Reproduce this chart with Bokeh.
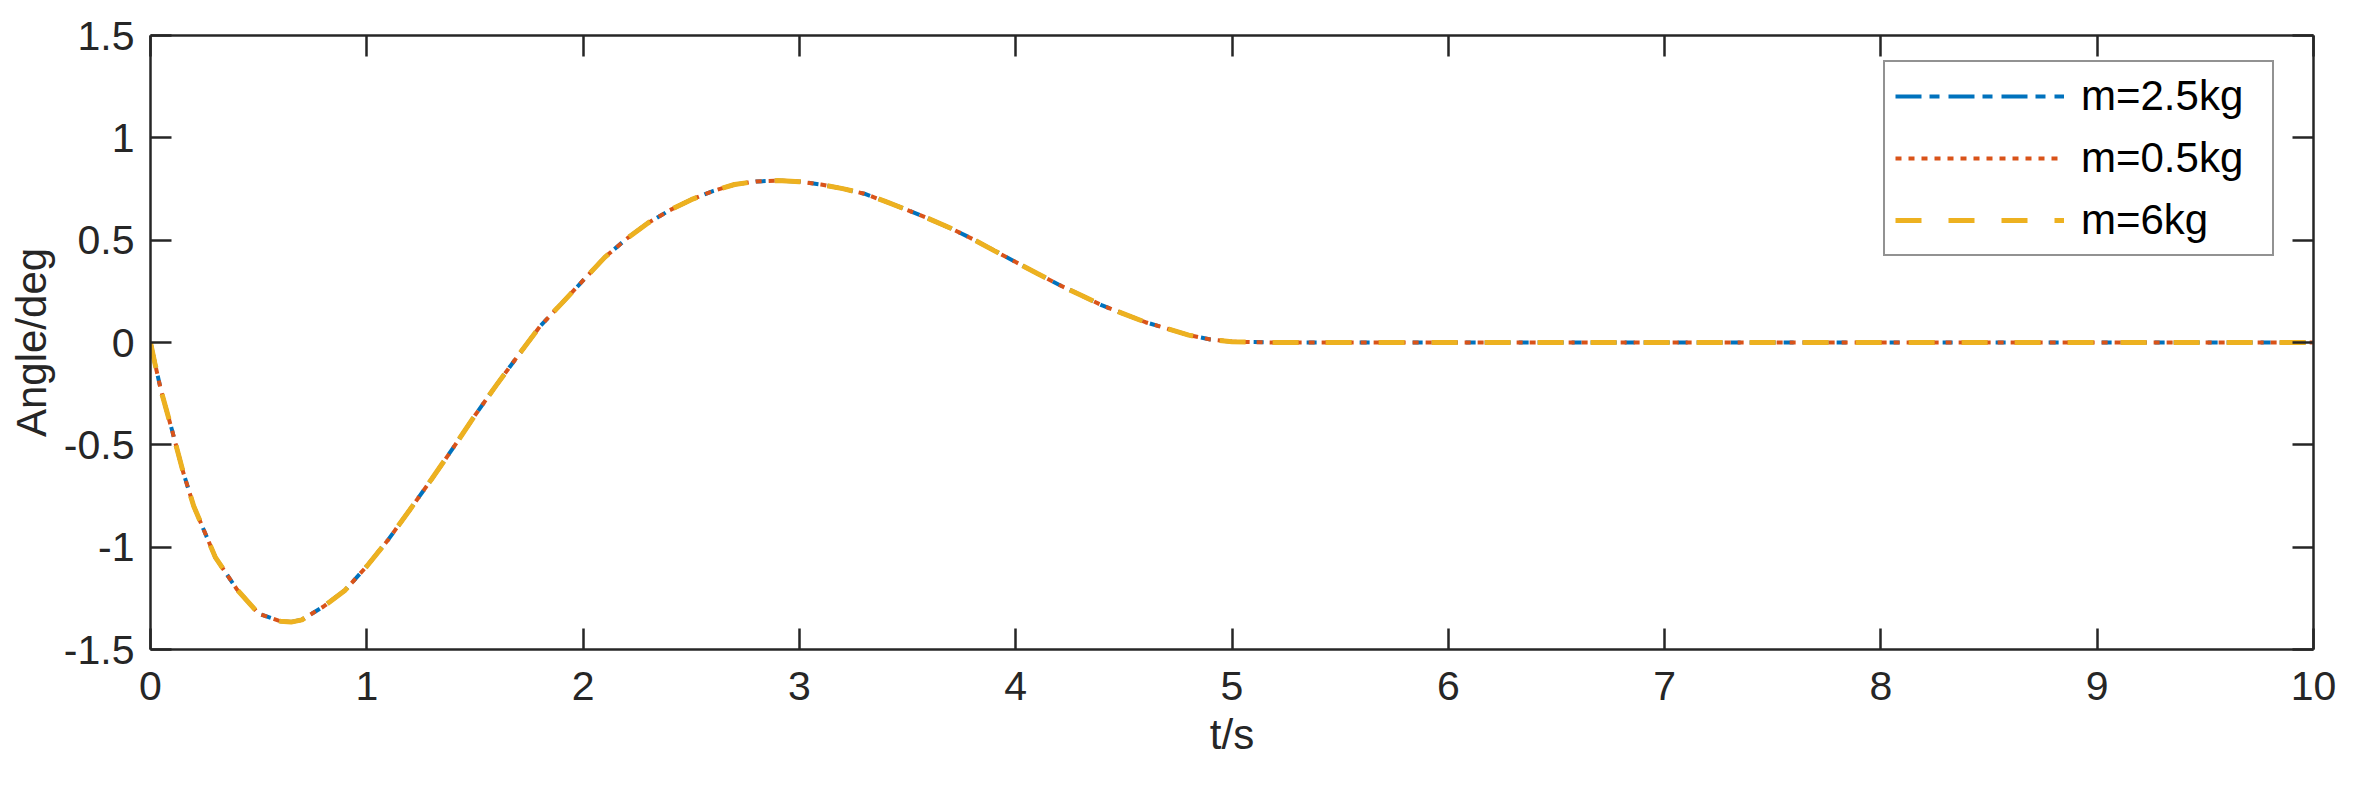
from bokeh.plotting import figure
from bokeh.models import Range1d, FixedTicker, LinearAxis, Legend, LegendItem
from bokeh.embed import file_html
from bokeh.resources import INLINE

# ---- data ----
t = [0, 0.02, 0.05, 0.1, 0.15, 0.2, 0.3, 0.4, 0.5, 0.6, 0.65, 0.7, 0.8, 0.9,
     1.0, 1.1, 1.2, 1.3, 1.4, 1.5, 1.6, 1.7, 1.8, 1.9, 2.0, 2.1, 2.2, 2.3, 2.4,
     2.5, 2.6, 2.7, 2.8, 2.9, 3.0, 3.1, 3.2, 3.3, 3.4, 3.5, 3.6, 3.7, 3.8, 3.9,
     4.0, 4.1, 4.2, 4.3, 4.4, 4.5, 4.6, 4.7, 4.8, 4.9, 5.0, 5.2, 6, 7, 8, 9, 10]
angle_m2_5 = [0, -0.10, -0.24, -0.43, -0.63, -0.80, -1.05, -1.207, -1.325, -1.362,
              -1.366, -1.355, -1.29, -1.21, -1.093, -0.962, -0.816, -0.667, -0.514,
              -0.356, -0.207, -0.063, 0.078, 0.19, 0.303, 0.416, 0.506, 0.584, 0.646,
              0.698, 0.74, 0.772, 0.787, 0.791, 0.786, 0.772, 0.752, 0.727, 0.688,
              0.647, 0.604, 0.558, 0.506, 0.449, 0.393, 0.337, 0.282, 0.232, 0.181,
              0.14, 0.099, 0.068, 0.036, 0.015, 0.004, 0, 0, 0, 0, 0, 0]
angle_m0_5 = list(angle_m2_5)
angle_m6 = list(angle_m2_5)

series_labels = ["m=2.5kg", "m=0.5kg", "m=6kg"]
x_ticks = [0, 1, 2, 3, 4, 5, 6, 7, 8, 9, 10]
x_tick_labels = ["0", "1", "2", "3", "4", "5", "6", "7", "8", "9", "10"]
y_ticks = [-1.5, -1, -0.5, 0, 0.5, 1, 1.5]
y_tick_labels = ["-1.5", "-1", "-0.5", "0", "0.5", "1", "1.5"]

FONT = "Liberation Sans"
AX = "#262626"

p = figure(frame_width=2163, frame_height=614,
           min_border_left=150, min_border_right=46,
           min_border_top=35, min_border_bottom=136,
           x_range=Range1d(0, 10), y_range=Range1d(-1.5, 1.5),
           output_backend="svg", toolbar_location=None,
           background_fill_color="white", border_fill_color="white")
p.outline_line_color = None
p.xgrid.visible = False
p.ygrid.visible = False

def style_axis(ax, ticks, labels, show_labels=True):
    ax.ticker = FixedTicker(ticks=ticks)
    ax.axis_line_color = AX
    ax.axis_line_width = 2.5
    ax.major_tick_line_color = AX
    ax.major_tick_line_width = 2.5
    ax.major_tick_in = 21
    ax.major_tick_out = 0
    ax.minor_tick_line_color = None
    ax.major_label_text_font = FONT
    ax.major_label_text_color = AX
    if show_labels:
        ax.major_label_overrides = {tk: lb for tk, lb in zip(ticks, labels)}
        ax.major_label_text_font_size = "41px"
    else:
        ax.major_label_overrides = {tk: "" for tk in ticks}
        ax.major_label_text_font_size = "2px"
        ax.major_label_standoff = 0

xa = p.xaxis[0]
ya = p.yaxis[0]
style_axis(xa, x_ticks, x_tick_labels)
style_axis(ya, y_ticks, y_tick_labels)
xa.major_label_standoff = 22
ya.major_label_standoff = 16
xa.axis_label = "t/s"
ya.axis_label = "Angle/deg"
for ax in (xa, ya):
    ax.axis_label_text_font = FONT
    ax.axis_label_text_font_size = "42px"
    ax.axis_label_text_font_style = "normal"
    ax.axis_label_text_color = AX
xa.axis_label_standoff = 8
ya.axis_label_standoff = 6

top_ax = LinearAxis()
right_ax = LinearAxis()
style_axis(top_ax, x_ticks, x_tick_labels, show_labels=False)
style_axis(right_ax, y_ticks, y_tick_labels, show_labels=False)
p.add_layout(top_ax, "above")
p.add_layout(right_ax, "right")

r1 = p.line(t, angle_m2_5, line_color="#0072BD", line_width=4,
            line_dash="26 8 10 9", line_cap="butt")
r2 = p.line(t, angle_m0_5, line_color="#D95319", line_width=4,
            line_dash="6 7", line_cap="butt")
r3 = p.line(t, angle_m6, line_color="#EDB120", line_width=5,
            line_dash="26 27", line_cap="butt")

legend = Legend(items=[LegendItem(label=series_labels[0], renderers=[r1]),
                       LegendItem(label=series_labels[1], renderers=[r2]),
                       LegendItem(label=series_labels[2], renderers=[r3])],
                location=(1733, 393))
legend.glyph_width = 169
legend.glyph_height = 46
legend.label_height = 46
legend.label_width = 181
legend.label_standoff = 17
legend.padding = 10
legend.spacing = 14
legend.margin = 0
legend.label_text_font = FONT
legend.label_text_font_size = "42px"
legend.label_text_color = "black"
legend.border_line_color = AX
legend.border_line_width = 2.5
legend.background_fill_color = "white"
legend.background_fill_alpha = 1
p.add_layout(legend, "center")

open("out.html", "w").write(file_html(p, INLINE))
